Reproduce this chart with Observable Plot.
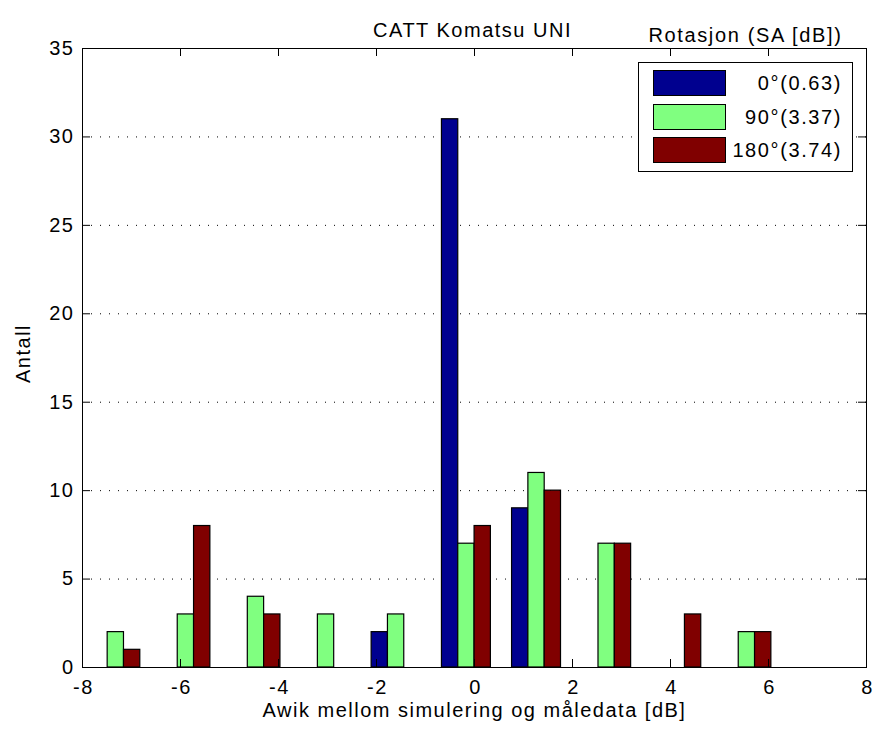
<!DOCTYPE html>
<html>
<head>
<meta charset="utf-8">
<script src="https://cdn.jsdelivr.net/npm/d3@7"></script>
<script src="https://cdn.jsdelivr.net/npm/@observablehq/plot@0.6"></script>
<style>
  html, body { margin: 0; padding: 0; background: #fff; }
  #wrap { position: relative; width: 875px; height: 731px; font-family: "Liberation Sans", Arial, sans-serif; }
  #wrap svg text { letter-spacing: 1.5px; }
  #legend { position: absolute; left: 638px; top: 62px; width: 213px; height: 108px; border: 1px solid #000; background: #fff; }
  .sw { position: absolute; left: 14px; width: 71px; height: 24px; border: 1px solid #000; }
  .lt { position: absolute; right: 10px; font-size: 20px; line-height: 20px; color: #000; white-space: nowrap; letter-spacing: 1.6px; }
  #legtitle { position: absolute; left: 638px; width: 215px; top: 24px; text-align: center; font-size: 20px; line-height: 22px; white-space: nowrap; letter-spacing: 1.65px; }
</style>
</head>
<body>
<div id="wrap"></div>
<script>
// ---- data ----
const binCenters = [-7.32, -5.89, -4.46, -3.03, -1.60, -0.165, 1.266, 2.697, 4.128, 5.559];
const deg0   = [0, 0, 0, 0, 2, 31, 9, 0, 0, 0];
const deg90  = [2, 3, 4, 3, 3, 7, 11, 7, 0, 2];
const deg180 = [1, 8, 3, 0, 0, 8, 10, 7, 3, 2];
const seriesNames = ["0°(0.63)", "90°(3.37)", "180°(3.74)"];
const seriesColors = ["#00008F", "#80FF80", "#800000"];
const xTicks = [-8, -6, -4, -2, 0, 2, 4, 6, 8];
const yTicks = [0, 5, 10, 15, 20, 25, 30, 35];
const gridLines = [5, 10, 15, 20, 25, 30];
const title = "CATT Komatsu UNI";
const xLabel = "Awik mellom simulering og måledata [dB]";
const yLabel = "Antall";
const legendTitle = "Rotasjon (SA [dB])";

// ---- build table ----
const seriesValues = [deg0, deg90, deg180];
const barW = 0.333;
const rows = [];
seriesValues.forEach((vals, s) => {
  vals.forEach((v, i) => {
    if (v > 0) {
      const c = binCenters[i] + (s - 1) * barW;
      rows.push({x1: c - barW / 2, x2: c + barW / 2, y: v, series: seriesNames[s]});
    }
  });
});

const W = 875, H = 731;
const mL = 82, mR = 9, mT = 48, mB = 64;
const fh = H - mT - mB, fw = W - mL - mR;
const tick = 8;

const chart = Plot.plot({
  width: W, height: H,
  marginLeft: mL, marginRight: mR, marginTop: mT, marginBottom: mB,
  style: {fontFamily: '"Liberation Sans", Arial, sans-serif', fontSize: "20px", background: "#fff", overflow: "visible", color: "#000"},
  x: {domain: [-8, 8], ticks: xTicks},
  y: {domain: [0, 35], ticks: yTicks},
  color: {domain: seriesNames, range: seriesColors},
  marks: [
    Plot.ruleY(gridLines, {stroke: "#000", strokeDasharray: "1,8", strokeWidth: 1}),
    Plot.rectY(rows, {x1: "x1", x2: "x2", y: "y", fill: "series", stroke: "#000", strokeWidth: 1.2}),
    Plot.frame({stroke: "#000", strokeWidth: 1}),
    Plot.tickX(xTicks, {x: d => d, insetTop: fh - tick, stroke: "#000"}),
    Plot.tickX(xTicks, {x: d => d, insetBottom: fh - tick, stroke: "#000"}),
    Plot.tickY(yTicks, {y: d => d, insetRight: fw - tick, stroke: "#000"}),
    Plot.tickY(yTicks, {y: d => d, insetLeft: fw - tick, stroke: "#000"}),
    Plot.axisX(xTicks, {tickSize: 0, tickPadding: 12, fontSize: 20, tickFormat: d => String(d), label: null, dx: 1}),
    Plot.axisY(yTicks, {tickSize: 0, tickPadding: 8, fontSize: 20, tickFormat: d => String(d), label: null}),
    Plot.text([title], {text: d => d, frameAnchor: "top", dy: -26, dx: -2, fontSize: 20}),
    Plot.text([xLabel], {text: d => d, frameAnchor: "bottom", dy: 49, fontSize: 20}),
    Plot.text([yLabel], {text: d => d, frameAnchor: "left", dx: -59, dy: 25, rotate: -90, fontSize: 20})
  ]
});

const wrap = document.getElementById("wrap");
wrap.appendChild(chart);

// legend
const lt = document.createElement("div");
lt.id = "legtitle";
lt.textContent = legendTitle;
wrap.appendChild(lt);
const leg = document.createElement("div");
leg.id = "legend";
const tops = [7, 41, 74];
seriesNames.forEach((name, i) => {
  const sw = document.createElement("div");
  sw.className = "sw";
  sw.style.top = tops[i] + "px";
  sw.style.background = seriesColors[i];
  leg.appendChild(sw);
  const t = document.createElement("div");
  t.className = "lt";
  t.style.top = (tops[i] + 3) + "px";
  t.textContent = name;
  leg.appendChild(t);
});
wrap.appendChild(leg);
</script>
</body>
</html>
